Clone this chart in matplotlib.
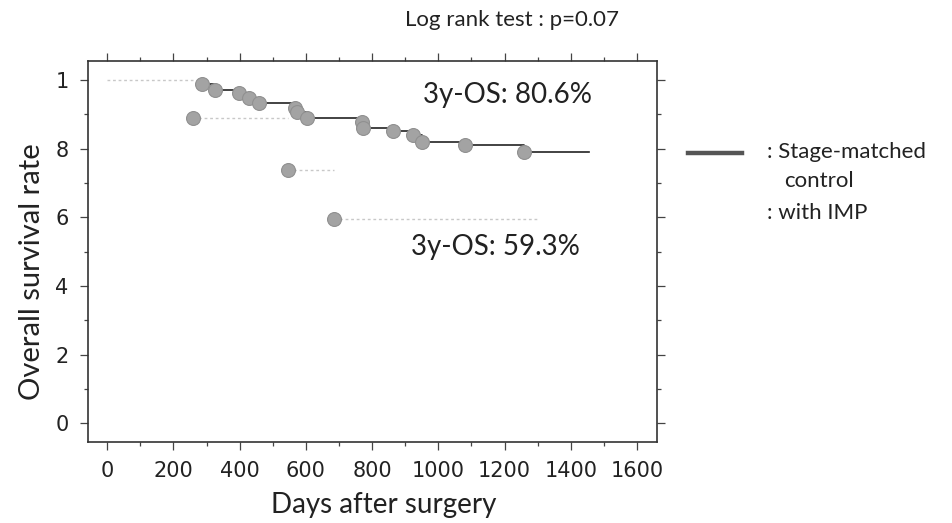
import matplotlib
matplotlib.use("Agg")
import matplotlib.pyplot as plt
from matplotlib.ticker import MultipleLocator

# ─── data ─────────────────────────────────────────────────────────────────────
control_days = [287, 325, 397, 427, 458, 566, 574, 604, 770, 773, 863, 925, 951, 1080, 1258]
control_surv = [0.987, 0.971, 0.961, 0.947, 0.932, 0.918, 0.908, 0.888, 0.878, 0.859,
                0.851, 0.840, 0.820, 0.811, 0.791]
control_end = 1454

imp_days = [259, 546, 684]
imp_surv = [0.890, 0.738, 0.595]
imp_end = 1298

x_ticks = [0, 200, 400, 600, 800, 1000, 1200, 1400, 1600]
y_ticks = [0, 0.2, 0.4, 0.6, 0.8, 1.0]
y_ticklabels = ["0", "2", "4", "6", "8", "1"]

TEXT_FONT = ["Lato", "DejaVu Sans"]
TICK_FONT = ["Liberation Sans Narrow", "DejaVu Sans Condensed", "DejaVu Sans"]
INK = "#222222"

fig = plt.figure(figsize=(9.53, 5.23), dpi=100)
ax = fig.add_axes([0.0923, 0.155, 0.597, 0.729])

# with IMP: faint dotted horizontal pieces (vertical drops barely visible in print)
starts = [0] + imp_days
ends = imp_days + [imp_end]
levels = [1.0] + imp_surv
ax.hlines(levels, starts, ends, color="#c8c8c8", lw=1.0, ls=(0, (2, 2)), zorder=2)
ax.plot(imp_days, imp_surv, "o", ms=10, color="#a3a3a3", mec="#909090", mew=0.8, zorder=4)

# stage-matched control: black step curve
cx = control_days + [control_end]
cy = control_surv + [control_surv[-1]]
ax.step(cx, cy, where="post", color=INK, lw=1.2, zorder=3)
ax.plot(control_days, control_surv, "o", ms=10, color="#a3a3a3", mec="#909090", mew=0.8, zorder=4)

ax.set_xlim(-58, 1660)
ax.set_ylim(-0.054, 1.056)

ax.set_xticks(x_ticks)
ax.xaxis.set_minor_locator(MultipleLocator(100))
ax.set_yticks(y_ticks)
ax.set_yticklabels(y_ticklabels)
ax.yaxis.set_minor_locator(MultipleLocator(0.1))
ax.tick_params(which="both", direction="out", top=True, right=True, color="#444444",
               width=0.9, labelsize=15)
ax.tick_params(which="major", length=6, pad=8)
ax.tick_params(which="minor", length=3)
for lab in ax.get_xticklabels() + ax.get_yticklabels():
    lab.set_family(TICK_FONT)
    lab.set_color(INK)

for spine in ax.spines.values():
    spine.set_color("#333333")
    spine.set_linewidth(1.2)

# axis titles
fig.text(384 / 953, 1 - 505 / 523, "Days after surgery", ha="center", va="center",
         family=TEXT_FONT, fontsize=20, color=INK)
fig.text(32 / 953, 1 - 272 / 523, "Overall survival rate", ha="center", va="center",
         rotation=90, family=TEXT_FONT, fontsize=21, color=INK)

# 3-year OS annotations
fig.text(508 / 953, 1 - 95 / 523, "3y-OS: 80.6%", ha="center", va="center",
         family=TEXT_FONT, fontsize=20, color=INK)
fig.text(495 / 953, 1 - 247 / 523, "3y-OS: 59.3%", ha="center", va="center",
         family=TEXT_FONT, fontsize=20, color=INK)

fig.text(512 / 953, 1 - 20 / 523, "Log rank test : p=0.07", ha="center", va="center",
         family=TEXT_FONT, fontsize=16, color=INK)

# legend drawn by hand
fig.add_artist(plt.Line2D([688 / 953, 742 / 953], [1 - 153 / 523] * 2, color="#555555", lw=3.2))
fig.text(767 / 953, 1 - 152 / 523, ": Stage-matched", ha="left", va="center",
         family=TEXT_FONT, fontsize=16, color=INK)
fig.text(784 / 953, 1 - 181 / 523, "control", ha="left", va="center",
         family=TEXT_FONT, fontsize=16, color=INK)
fig.text(767 / 953, 1 - 213 / 523, ": with IMP", ha="left", va="center",
         family=TEXT_FONT, fontsize=16, color=INK)

fig.savefig("out.png", dpi=100, facecolor="white")
